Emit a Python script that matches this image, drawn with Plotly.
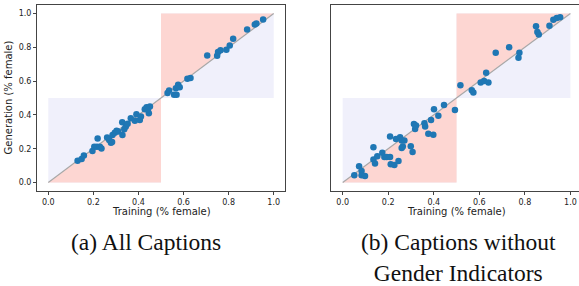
import plotly.graph_objects as go

# ---- data: panel (a) All Captions ----
a_train = [0.130, 0.148, 0.158, 0.196, 0.204, 0.216, 0.219, 0.229, 0.236, 0.261,
           0.270, 0.278, 0.283, 0.285, 0.295, 0.303, 0.310, 0.328, 0.329, 0.337,
           0.344, 0.352, 0.366, 0.384, 0.391, 0.406, 0.411, 0.428, 0.436, 0.446,
           0.451, 0.442,
           0.529, 0.536, 0.558, 0.569, 0.566, 0.576, 0.583, 0.617, 0.631, 0.705,
           0.749, 0.753, 0.764, 0.790, 0.805, 0.820, 0.882, 0.916, 0.923, 0.953]
a_gen = [0.129, 0.139, 0.160, 0.186, 0.212, 0.212, 0.261, 0.212, 0.202, 0.267,
         0.251, 0.236, 0.240, 0.281, 0.295, 0.307, 0.302, 0.356, 0.281, 0.315,
         0.331, 0.347, 0.380, 0.366, 0.404, 0.370, 0.390, 0.434, 0.446, 0.410,
         0.450, 0.430,
         0.529, 0.545, 0.519, 0.519, 0.558, 0.578, 0.564, 0.614, 0.618, 0.752,
         0.750, 0.772, 0.782, 0.786, 0.810, 0.851, 0.905, 0.935, 0.941, 0.964]

# ---- data: panel (b) Captions without Gender Indicators ----
b_train = [0.051, 0.072, 0.083, 0.083, 0.098, 0.135, 0.135, 0.142, 0.152, 0.174,
           0.183, 0.193, 0.208, 0.208, 0.211, 0.227, 0.234, 0.245, 0.252, 0.259,
           0.259, 0.264, 0.271, 0.299, 0.307, 0.313, 0.318, 0.322, 0.359, 0.362,
           0.376, 0.388, 0.398, 0.401, 0.420, 0.445, 0.493,
           0.517, 0.567, 0.574, 0.606, 0.621, 0.630, 0.640, 0.672, 0.731, 0.772,
           0.776, 0.849, 0.855, 0.861, 0.908, 0.925, 0.940, 0.955]
b_gen = [0.043, 0.096, 0.068, 0.043, 0.039, 0.209, 0.137, 0.112, 0.155, 0.176,
         0.151, 0.151, 0.151, 0.272, 0.108, 0.104, 0.258, 0.127, 0.268, 0.249,
         0.204, 0.213, 0.249, 0.215, 0.180, 0.346, 0.317, 0.337, 0.350, 0.331,
         0.288, 0.370, 0.282, 0.434, 0.395, 0.458, 0.429,
         0.575, 0.546, 0.532, 0.591, 0.601, 0.650, 0.591, 0.767, 0.800, 0.738,
         0.767, 0.924, 0.890, 0.875, 0.928, 0.963, 0.973, 0.978]

tick_vals = [0.0, 0.2, 0.4, 0.6, 0.8, 1.0]
tick_text = ["0.0", "0.2", "0.4", "0.6", "0.8", "1.0"]
THRESH = 0.5
x_title = "Training (% female)"
y_title = "Generation (% female)"
captions = ["(a) All Captions", "(b) Captions without<br>Gender Indicators"]

PINK = "#fdd6d2"
LAV = "#f0f0fb"
DOT = "#1f77b4"

fig = go.Figure()

def add_panel(xa, ya, xs, ys):
    lo, hi = 0.0, 1.0
    t = THRESH
    fig.add_trace(go.Scatter(x=[lo, t, t, lo, lo], y=[lo, lo, t, t, lo], fill="toself",
                             fillcolor=LAV, line=dict(width=0), mode="lines",
                             xaxis=xa, yaxis=ya, hoverinfo="skip", showlegend=False))
    fig.add_trace(go.Scatter(x=[lo, t, t, lo], y=[lo, lo, t, lo], fill="toself",
                             fillcolor=PINK, line=dict(width=0), mode="lines",
                             xaxis=xa, yaxis=ya, hoverinfo="skip", showlegend=False))
    fig.add_trace(go.Scatter(x=[t, hi, hi, t, t], y=[t, t, hi, hi, t], fill="toself",
                             fillcolor=LAV, line=dict(width=0), mode="lines",
                             xaxis=xa, yaxis=ya, hoverinfo="skip", showlegend=False))
    fig.add_trace(go.Scatter(x=[t, hi, t, t], y=[t, hi, hi, t], fill="toself",
                             fillcolor=PINK, line=dict(width=0), mode="lines",
                             xaxis=xa, yaxis=ya, hoverinfo="skip", showlegend=False))
    fig.add_trace(go.Scatter(x=[lo, hi], y=[lo, hi], mode="lines",
                             line=dict(color="#a8a8a8", width=1.2),
                             xaxis=xa, yaxis=ya, hoverinfo="skip", showlegend=False))
    fig.add_trace(go.Scatter(x=xs, y=ys, mode="markers",
                             marker=dict(color=DOT, size=6.5, line=dict(width=0)),
                             xaxis=xa, yaxis=ya, showlegend=False))

add_panel("x", "y", a_train, a_gen)
add_panel("x2", "y2", b_train, b_gen)

W, H = 579, 286
ydom = [1 - 191 / H, 1 - 5 / H]
axis_common = dict(showgrid=False, zeroline=False, showline=True, linecolor="#444",
                   linewidth=1, mirror=True, ticks="outside", ticklen=3, tickwidth=1,
                   tickcolor="#444", automargin=False,
                   tickfont=dict(family="DejaVu Sans", size=8, color="#222"),
                   tickvals=tick_vals, ticktext=tick_text)
title_font = dict(family="DejaVu Sans", size=10, color="#222")

fig.update_layout(
    width=W, height=H, margin=dict(l=0, r=0, t=0, b=0, autoexpand=False),
    paper_bgcolor="white", plot_bgcolor="white",
    xaxis=dict(domain=[37 / W, 285 / W], range=[-0.05, 1.05], anchor="y", **axis_common),
    yaxis=dict(domain=ydom, range=[-0.05, 1.05], anchor="x", **axis_common),
    xaxis2=dict(domain=[331.3 / W, 1.0], range=[-0.05, (579 - 342.7) / 227.7], anchor="y2",
                **axis_common),
    yaxis2=dict(domain=ydom, range=[-0.05, 1.05], anchor="x2",
                **{k: v for k, v in axis_common.items() if k not in ("ticks",)},
                ticks="", showticklabels=False),
)

# axis titles as annotations
fig.add_annotation(text=x_title, x=0.5, xref="x domain", y=1 - 211 / H, yref="paper",
                   showarrow=False, font=title_font, xanchor="center", yanchor="middle")
fig.add_annotation(text=x_title, x=0.5, xref="x2", y=1 - 211 / H, yref="paper",
                   showarrow=False, font=title_font, xanchor="center", yanchor="middle")
fig.add_annotation(text=y_title, x=7.5 / W, xref="paper", y=0.5, yref="y domain",
                   showarrow=False, font=title_font, textangle=-90,
                   xanchor="center", yanchor="middle")

fig.add_annotation(text=captions[0], x=146 / W, y=1 - 242 / H, xref="paper", yref="paper",
                   showarrow=False, font=dict(family="Liberation Serif", size=23.5, color="#111"),
                   xanchor="center", yanchor="middle")
fig.add_annotation(text=captions[1], x=458 / W, y=1 - 257 / H, xref="paper", yref="paper",
                   showarrow=False, font=dict(family="Liberation Serif", size=23.5, color="#111"),
                   xanchor="center", yanchor="middle", align="center")

fig.write_html("out.html", config={"displayModeBar": False},
               post_script="document.body.style.margin='0';document.body.style.overflow='hidden';")
